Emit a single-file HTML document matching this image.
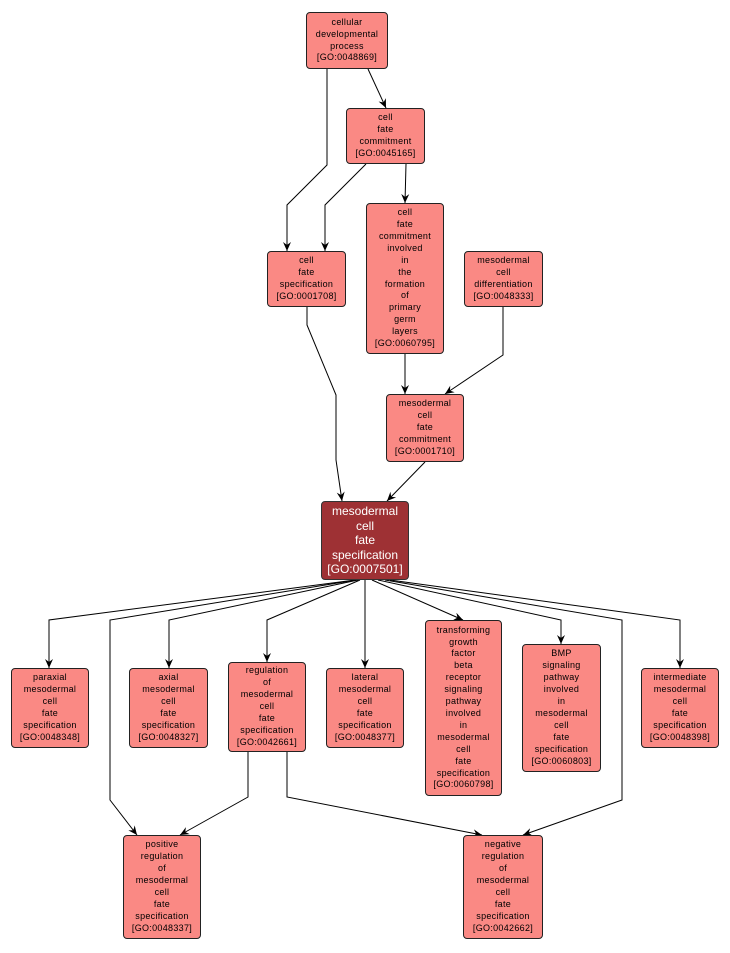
<!DOCTYPE html>
<html><head><meta charset="utf-8"><style>
body{margin:0;background:#fff;width:730px;height:953px;position:relative;overflow:hidden;font-family:"Liberation Sans",sans-serif}
.n{position:absolute;box-sizing:border-box;background:#fa8984;border:1px solid #222;border-radius:4px;font-size:9px;line-height:11.9px;color:#000;text-align:center;display:flex;align-items:center;justify-content:center;letter-spacing:0.3px}
.c{background:#9e3134;color:#fff;font-size:12px;line-height:14.5px;border-color:#333;letter-spacing:0}
svg{position:absolute;left:0;top:0}
</style></head><body>
<svg width="730" height="953">
<defs><marker id="a" markerWidth="10" markerHeight="10" refX="9" refY="5" orient="auto" markerUnits="userSpaceOnUse"><path d="M0,1 L9,5 L0,9 L3,5 z" fill="#000"/></marker></defs>
<g fill="none" stroke="#000" stroke-width="1" marker-end="url(#a)">
<path d="M327,69 L327,165 L287,205 L287,251"/>
<path d="M368,69 L386,108"/>
<path d="M366,164 L325,205 L325,251"/>
<path d="M406,164 L405,203"/>
<path d="M307,307 L307,325 L336,395 L336,460 L342,501"/>
<path d="M405,354 L405,394"/>
<path d="M503,307 L503,355 L445,394"/>
<path d="M425,462 L387,501"/>
<path d="M355,580 L49,620 L49,668"/>
<path d="M356,580 L110,620 L110,800 L137,835"/>
<path d="M358,580 L169,620 L169,668"/>
<path d="M360,580 L267,620 L267,662"/>
<path d="M365,580 L365,668"/>
<path d="M372,580 L463,620"/>
<path d="M378,580 L561,620 L561,644"/>
<path d="M385,580 L622,620 L622,800 L523,835"/>
<path d="M390,580 L680,620 L680,668"/>
<path d="M248,752 L248,797 L180,835"/>
<path d="M287,752 L287,797 L482,835"/>
</g></svg>
<div class="n" style="left:306px;top:12px;width:82px;height:57px">cellular<br>developmental<br>process<br>[GO:0048869]</div>
<div class="n" style="left:346px;top:108px;width:79px;height:56px">cell<br>fate<br>commitment<br>[GO:0045165]</div>
<div class="n" style="left:267px;top:251px;width:79px;height:56px">cell<br>fate<br>specification<br>[GO:0001708]</div>
<div class="n" style="left:366px;top:203px;width:78px;height:151px">cell<br>fate<br>commitment<br>involved<br>in<br>the<br>formation<br>of<br>primary<br>germ<br>layers<br>[GO:0060795]</div>
<div class="n" style="left:464px;top:251px;width:79px;height:56px">mesodermal<br>cell<br>differentiation<br>[GO:0048333]</div>
<div class="n" style="left:386px;top:394px;width:78px;height:68px">mesodermal<br>cell<br>fate<br>commitment<br>[GO:0001710]</div>
<div class="n c" style="left:321px;top:501px;width:88px;height:79px">mesodermal<br>cell<br>fate<br>specification<br>[GO:0007501]</div>
<div class="n" style="left:11px;top:668px;width:78px;height:80px">paraxial<br>mesodermal<br>cell<br>fate<br>specification<br>[GO:0048348]</div>
<div class="n" style="left:129px;top:668px;width:79px;height:80px">axial<br>mesodermal<br>cell<br>fate<br>specification<br>[GO:0048327]</div>
<div class="n" style="left:228px;top:662px;width:78px;height:90px">regulation<br>of<br>mesodermal<br>cell<br>fate<br>specification<br>[GO:0042661]</div>
<div class="n" style="left:326px;top:668px;width:78px;height:80px">lateral<br>mesodermal<br>cell<br>fate<br>specification<br>[GO:0048377]</div>
<div class="n" style="left:425px;top:620px;width:77px;height:176px">transforming<br>growth<br>factor<br>beta<br>receptor<br>signaling<br>pathway<br>involved<br>in<br>mesodermal<br>cell<br>fate<br>specification<br>[GO:0060798]</div>
<div class="n" style="left:522px;top:644px;width:79px;height:128px">BMP<br>signaling<br>pathway<br>involved<br>in<br>mesodermal<br>cell<br>fate<br>specification<br>[GO:0060803]</div>
<div class="n" style="left:641px;top:668px;width:78px;height:80px">intermediate<br>mesodermal<br>cell<br>fate<br>specification<br>[GO:0048398]</div>
<div class="n" style="left:123px;top:835px;width:78px;height:104px">positive<br>regulation<br>of<br>mesodermal<br>cell<br>fate<br>specification<br>[GO:0048337]</div>
<div class="n" style="left:463px;top:835px;width:80px;height:104px">negative<br>regulation<br>of<br>mesodermal<br>cell<br>fate<br>specification<br>[GO:0042662]</div>
</body></html>
